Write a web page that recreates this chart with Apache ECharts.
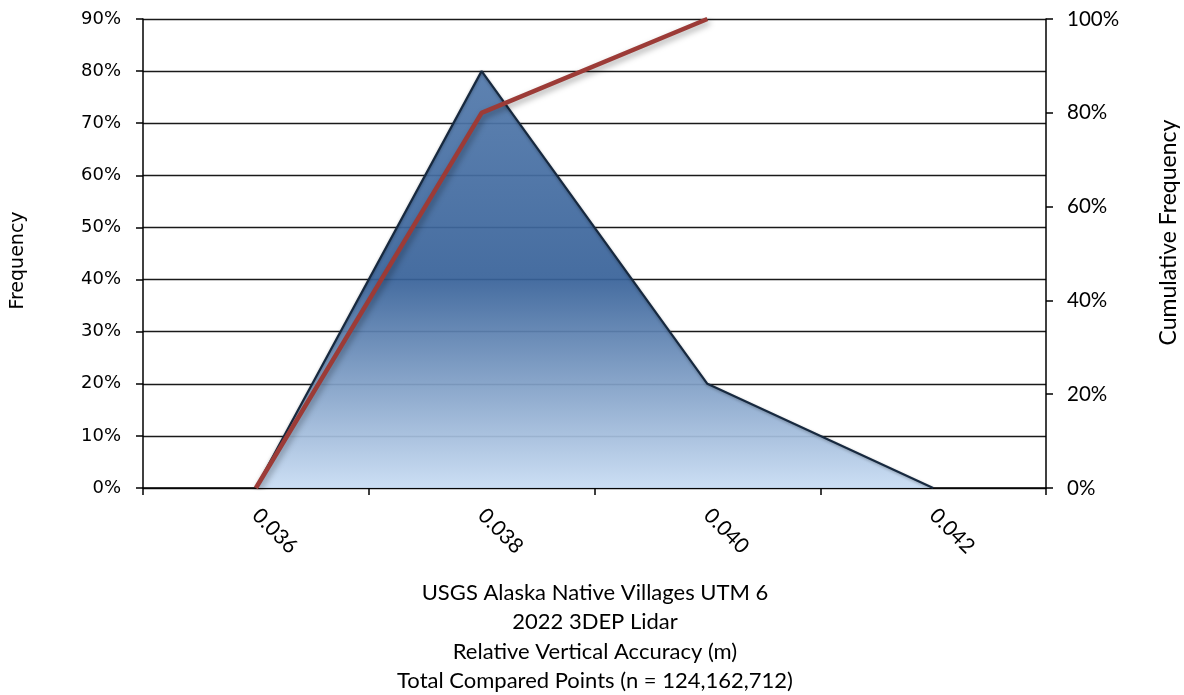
<!DOCTYPE html>
<html>
<head>
<meta charset="utf-8">
<script src="https://cdn.jsdelivr.net/npm/echarts@6/dist/echarts.min.js"></script>
<style>
html,body{margin:0;padding:0;background:#fff;}
#chart{width:1184px;height:695px;}
</style>
</head>
<body>
<div id="chart"></div>
<script>
const categories = ['0.036', '0.038', '0.040', '0.042'];
const frequency = [0, 80, 20, 0];
const cumulative = [0, 80, 100, null];
const leftTicks = {min: 0, max: 90, interval: 10};
const rightTicks = {min: 0, max: 100, interval: 20};
const xTitleLines = [
  'USGS Alaska Native Villages UTM 6',
  '2022 3DEP Lidar',
  'Relative Vertical Accuracy (m)',
  'Total Compared Points (n = 124,162,712)'
];

const chart = echarts.init(document.getElementById('chart'), null, {renderer: 'canvas'});
const calibri = 'Lato, "Open Sans", sans-serif';
const dejavu = '"DejaVu Sans", sans-serif';
chart.setOption({
  animation: false,
  backgroundColor: '#ffffff',
  grid: {left: 143, right: 138, top: 19, bottom: 207, containLabel: false, outerBoundsMode: 'none'},
  title: {
    text: xTitleLines.join('\n'),
    left: 590, top: 573, textAlign: 'center',
    textStyle: {fontFamily: calibri, fontSize: 22, fontWeight: 'normal', color: '#000', lineHeight: 29.5}
  },
  xAxis: {
    type: 'category',
    data: categories,
    boundaryGap: true,
    axisLine: {show: true, lineStyle: {color: '#000', width: 1.5}},
    axisTick: {show: true, alignWithLabel: false, length: 7, lineStyle: {color: '#000', width: 1.5}},
    axisLabel: {rotate: -45, margin: 24, fontFamily: calibri, fontSize: 21, color: '#000'},
    splitLine: {show: false}
  },
  yAxis: [
    {
      type: 'value', position: 'left',
      min: leftTicks.min, max: leftTicks.max, interval: leftTicks.interval,
      name: 'Frequency', nameLocation: 'middle', nameRotate: 90, nameGap: 115,
      nameTextStyle: {fontFamily: dejavu, fontSize: 19, color: '#000', padding: [0, 14, 0, 0]},
      axisLine: {show: true, lineStyle: {color: '#000', width: 1.5}},
      axisTick: {show: true, length: 7, lineStyle: {color: '#000', width: 1.5}},
      axisLabel: {formatter: '{value}%', margin: 22, fontFamily: dejavu, fontSize: 18, color: '#000'},
      splitLine: {show: true, lineStyle: {color: '#1a1a1a', width: 1.3}}
    },
    {
      type: 'value', position: 'right',
      min: rightTicks.min, max: rightTicks.max, interval: rightTicks.interval,
      name: 'Cumulative Frequency', nameLocation: 'middle', nameRotate: 90, nameGap: 111,
      nameTextStyle: {fontFamily: calibri, fontSize: 23, color: '#000', padding: [0, 0, 0, 42]},
      axisLine: {show: true, lineStyle: {color: '#000', width: 1.5}},
      axisTick: {show: true, length: 7, lineStyle: {color: '#000', width: 1.5}},
      axisLabel: {formatter: '{value}%', margin: 21, fontFamily: calibri, fontSize: 20.5, color: '#000'},
      splitLine: {show: false}
    }
  ],
  series: [
    {
      name: 'Frequency',
      type: 'line',
      yAxisIndex: 0,
      data: frequency,
      symbol: 'none',
      z: 2,
      lineStyle: {color: '#17293f', width: 2.2, shadowColor: 'rgba(0,0,0,0.3)', shadowBlur: 3, shadowOffsetY: 1},
      areaStyle: {
        opacity: 0.93,
        color: new echarts.graphic.LinearGradient(0, 0, 0, 1, [
          {offset: 0, color: '#5279ab'},
          {offset: 0.5, color: '#386299'},
          {offset: 1, color: '#c8dcf3'}
        ])
      }
    },
    {
      name: 'Cumulative Frequency',
      type: 'line',
      yAxisIndex: 1,
      data: cumulative,
      symbol: 'none',
      z: 3,
      lineStyle: {color: '#9c3b37', width: 4.5, shadowColor: 'rgba(0,0,0,0.35)', shadowBlur: 6, shadowOffsetX: 2, shadowOffsetY: 3}
    }
  ]
});
</script>
</body>
</html>
